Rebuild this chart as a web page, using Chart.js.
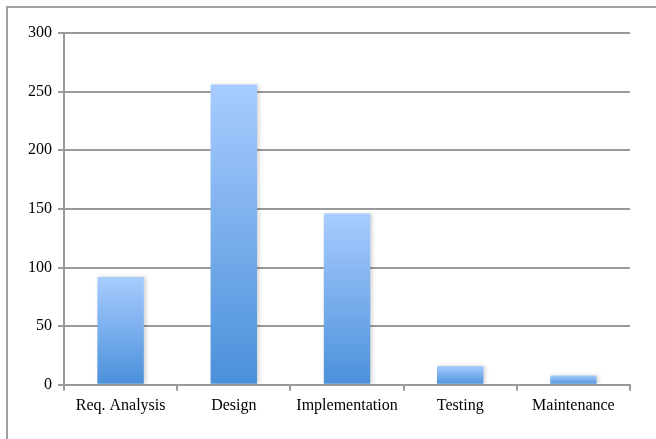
<!DOCTYPE html>
<html>
<head>
<meta charset="utf-8">
<script src="https://cdn.jsdelivr.net/npm/chart.js@4"></script>
<style>
  body { margin: 0; background: #fff; }
  #frame { position: absolute; left: 6px; top: 6px; width: 700px; height: 500px;
           border-left: 2px solid #a0a0a0; border-top: 2px solid #a0a0a0; }
  #wrap { position: absolute; left: 0; top: 0; width: 656px; height: 439px; }
</style>
</head>
<body>
<div id="frame"></div>
<div id="wrap"><canvas id="myChart" width="656" height="439"></canvas></div>
<script>
let phases = ['Req. Analysis', 'Design', 'Implementation', 'Testing', 'Maintenance'];
let effort = [92, 256, 146, 16, 8];
let yTicks = [0, 50, 100, 150, 200, 250, 300];

let gridGray = '#9a9a9a';

// each bar gets its own vertical gradient, light on top, darker at the base
function barFill(c) {
    let chart = c.chart;
    if (!chart.chartArea || c.raw === undefined) return '#6fa8e8';
    let y = chart.scales.y;
    let top = y.getPixelForValue(c.raw);
    let bottom = y.getPixelForValue(0);
    let g = chart.ctx.createLinearGradient(0, top, 0, bottom);
    g.addColorStop(0, '#a8ccff');
    g.addColorStop(1, '#4a90da');
    return g;
}

let barShadow = {
    id: 'barShadow',
    beforeDatasetsDraw(chart) {
        let ctx = chart.ctx;
        ctx.save();
        ctx.shadowColor = 'rgba(0,0,0,0.18)';
        ctx.shadowBlur = 4;
        ctx.shadowOffsetX = 2;
    },
    afterDatasetsDraw(chart) {
        chart.ctx.restore();
    }
};

let ctx = document.getElementById('myChart').getContext('2d');
let myChart = new Chart(ctx, {
    type: 'bar',
    data: {
        labels: phases,
        datasets: [{
            data: effort,
            backgroundColor: barFill,
            borderWidth: 0,
            categoryPercentage: 1,
            barPercentage: 0.41
        }]
    },
    options: {
        responsive: false,
        animation: false,
        layout: { padding: { left: 22, right: 26, top: 33, bottom: 19 } },
        plugins: { legend: { display: false }, tooltip: { enabled: false } },
        scales: {
            x: {
                grid: { drawOnChartArea: false, drawTicks: true, tickLength: 6, color: gridGray, lineWidth: 2, offset: true },
                border: { display: true, color: gridGray, width: 2 },
                ticks: { color: '#000', padding: 5, font: { family: 'Liberation Serif', size: 16 } }
            },
            y: {
                min: 0,
                max: 300,
                afterBuildTicks: function (axis) {
                    axis.ticks = yTicks.map(function (v) { return { value: v }; });
                },
                grid: { color: gridGray, lineWidth: 2, tickLength: 6 },
                border: { display: true, color: gridGray, width: 2 },
                ticks: { color: '#000', padding: 6, font: { family: 'Liberation Serif', size: 16 } }
            }
        }
    },
    plugins: [barShadow]
});
</script>
</body>
</html>
